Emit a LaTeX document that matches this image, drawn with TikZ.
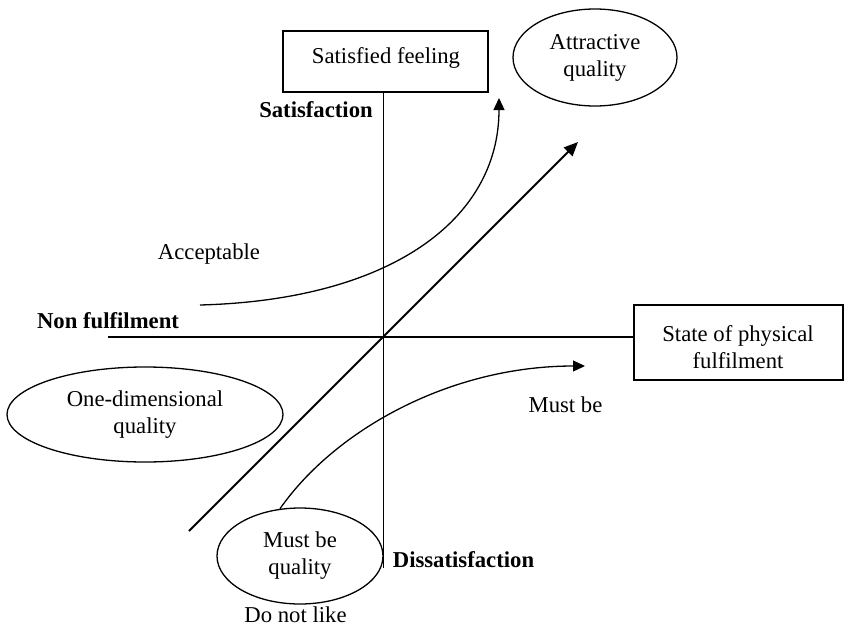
\documentclass[tikz,border=0pt]{standalone}
\usepackage{fontspec}
\setmainfont{Liberation Serif}
\usetikzlibrary{arrows.meta,shapes.geometric}
\begin{document}
\begin{tikzpicture}[x=1pt,y=-1pt,
  every node/.style={font=\fontsize{22.7pt}{27pt}\selectfont, inner sep=0pt},
  boxnode/.style={draw, line width=1.3pt, rectangle},
  ovalnode/.style={draw, line width=1.3pt, ellipse, align=center},
  lbl/.style={align=center},
  bold/.style={font=\fontsize{22.7pt}{27pt}\selectfont\bfseries},
  axisline/.style={line width=1.3pt},
  vaxis/.style={line width=1pt},
  curvearrow/.style={line width=1.3pt, -{Triangle[length=12pt,width=11pt]}},
  diagarrow/.style={line width=2pt, -{Triangle[length=14pt,width=12pt]}}]
\useasboundingbox (0,0) rectangle (844,627);

% nodes
\node[boxnode, minimum width=205pt, minimum height=61pt] (sf) at (385.5,61.5) {};
\node[lbl] (sft) at (386,57.5) {Satisfied feeling};
\node[ovalnode, minimum width=164pt, minimum height=97pt] (aq) at (595,57.5) {Attractive\\quality};
\node[bold] (sat) at (316,110) {Satisfaction};
\node[lbl] (acc) at (209,254.5) {Acceptable};
\node[bold] (nf) at (108,321) {Non fulfilment};
\node[boxnode, minimum width=209pt, minimum height=75pt] (sp) at (738.5,342.5) {};
\node[lbl] (spt) at (738,347) {State of physical\\fulfilment};
\node[ovalnode, minimum width=276pt, minimum height=95pt] (od) at (145,414.5) {One-dimensional\\quality};
\node[lbl] (mb) at (565.5,404.5) {Must be};
\node[ovalnode, minimum width=166pt, minimum height=96pt] (mq) at (300,556) {Must be\\quality};
\node[bold] (dis) at (463.5,560) {Dissatisfaction};
\node[lbl] (dnl) at (295.5,614.5) {Do not like};

% free ends
\coordinate (o) at (383,337);
\coordinate (vb) at (383,568);
\coordinate (hl) at (108,337);
\coordinate (accS) at (200,305);
\coordinate (accE) at (499,98);
\coordinate (dS) at (189,531);
\coordinate (dE) at (578,142);
\coordinate (mbE) at (585,366);

% connectors
\draw[vaxis] (sf.south -| o) -- (vb);
\draw[axisline] (hl) -- (sp.west |- o);
\draw[curvearrow] (accS) .. controls (390,300) and (499,220) .. (accE);
\draw[diagarrow] (dS) -- (dE);
\draw[curvearrow] (mq.113) .. controls (335,430) and (450,366) .. (mbE);
\end{tikzpicture}
\end{document}
